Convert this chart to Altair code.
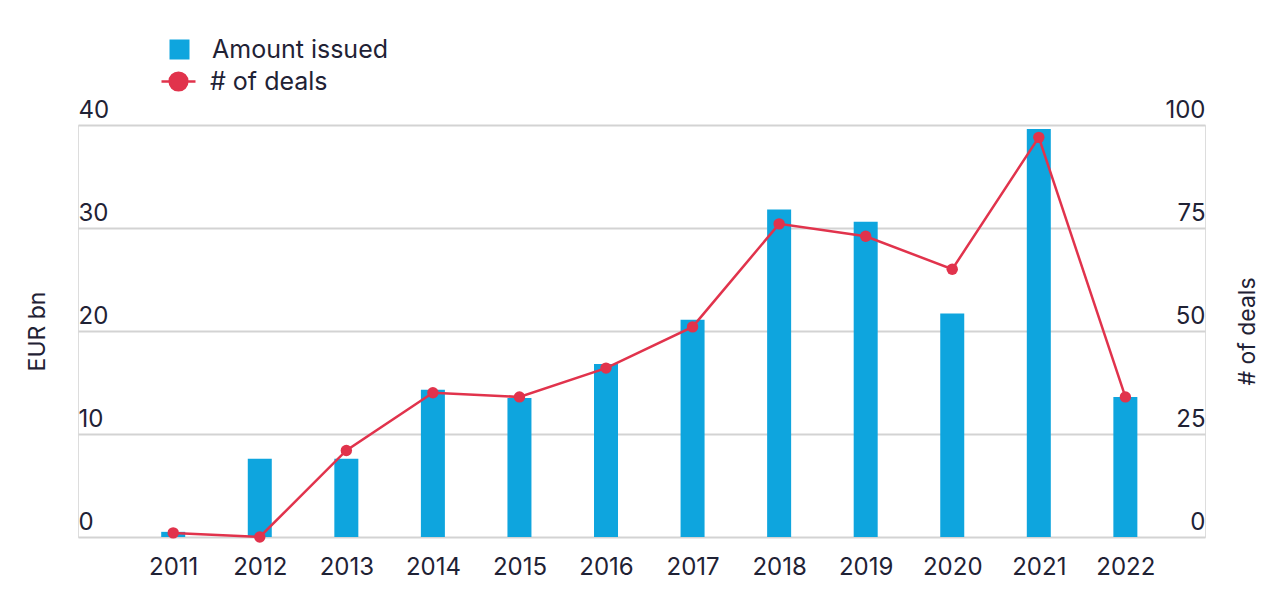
import altair as alt
import pandas as pd

years = [2011, 2012, 2013, 2014, 2015, 2016, 2017, 2018, 2019, 2020, 2021, 2022]
amount_issued = [0.5, 7.6, 7.6, 14.3, 13.5, 16.8, 21.1, 31.8, 30.6, 21.7, 39.6, 13.6]
num_deals = [1, 0, 21, 35, 34, 41, 51, 76, 73, 65, 97, 34]

df = pd.DataFrame({
    "year": years,
    "amount": amount_issued,
    "deals": num_deals,
    "s1": ["Amount issued"] * len(years),
    "s2": ["# of deals"] * len(years),
})

FONT = "Inter"
TXT = "#1f2235"
BLUE = "#0ea5de"
RED = "#e1334c"
FS = 24

x = alt.X(
    "year:Q",
    scale=alt.Scale(domain=[2009.9, 2022.92], nice=False, zero=False, padding=0),
    axis=alt.Axis(
        values=years, format="d", title=None, grid=False, ticks=False, domain=False,
        labelFontSize=FS, labelColor=TXT, labelFont=FONT, labelPadding=18,
        labelFlush=False,
    ),
)

bars = alt.Chart(df).mark_bar(size=24).encode(
    x=x,
    y=alt.Y(
        "amount:Q",
        scale=alt.Scale(domain=[0, 40], nice=False),
        axis=alt.Axis(
            orient="left", values=[0, 10, 20, 30, 40], title="EUR bn",
            grid=True, gridColor="#d3d3d3", gridWidth=2,
            ticks=False, domain=False, labelAlign="left", labelPadding=0,
            labelBaseline="alphabetic", labelOffset=-8,
            labelFontSize=FS, labelColor=TXT, labelFont=FONT,
            titleFontSize=23, titleFontWeight="normal", titleColor=TXT, titleFont=FONT,
            titleAngle=270, titleX=-41, titleY=206, titleBaseline="middle", titleAlign="center",
        ),
    ),
    color=alt.Color(
        "s1:N",
        scale=alt.Scale(domain=["Amount issued"], range=[BLUE]),
        legend=alt.Legend(
            title=None, orient="none", legendX=89, legendY=-88, symbolType="square",
            symbolSize=400, symbolStrokeWidth=0, labelFontSize=25, labelColor=TXT,
            labelFont=FONT, labelOffset=20, padding=0, labelLimit=0,
        ),
    ),
)

line = alt.Chart(df).mark_line(strokeWidth=2.5).encode(
    x=alt.X("year:Q"),
    y=alt.Y(
        "deals:Q",
        scale=alt.Scale(domain=[0, 100], nice=False),
        axis=alt.Axis(
            orient="right", values=[0, 25, 50, 75, 100], title="# of deals",
            grid=False, ticks=False, domain=False, labelAlign="right", labelPadding=0,
            labelBaseline="alphabetic", labelOffset=-8,
            labelFontSize=FS, labelColor=TXT, labelFont=FONT,
            titleFontSize=23, titleFontWeight="normal", titleColor=TXT, titleFont=FONT,
            titleAngle=270, titleX=42, titleY=206, titleBaseline="middle", titleAlign="center",
        ),
    ),
    stroke=alt.Stroke(
        "s2:N",
        scale=alt.Scale(domain=["# of deals"], range=[RED]),
        legend=alt.Legend(
            title=None, orient="none", legendX=82, legendY=-62,
            symbolType="M-1,0L-0.5,0M0.5,0L1,0M-0.52,0A0.52,0.52 0 1,1 0.52,0A0.52,0.52 0 1,1 -0.52,0Z",
            symbolSize=1156, symbolFillColor=RED, symbolStrokeColor=RED, symbolStrokeWidth=2.5,
            labelFontSize=25, labelColor=TXT, labelFont=FONT, labelOffset=13, padding=0,
            labelLimit=0,
        ),
    ),
)

points = alt.Chart(df).mark_circle(size=130, opacity=1, color=RED).encode(
    x=alt.X("year:Q"),
    y=alt.Y("deals:Q"),
)

chart = alt.layer(bars, alt.layer(line, points)).resolve_scale(
    y="independent"
).properties(
    width=1127, height=412,
    autosize=alt.AutoSizeParams(type="none"),
    padding={"left": 70, "top": 117, "right": 60, "bottom": 60},
).configure_view(stroke=None).configure(background="white")

chart.save("out.html", embed_options={"renderer": "svg", "actions": False})
